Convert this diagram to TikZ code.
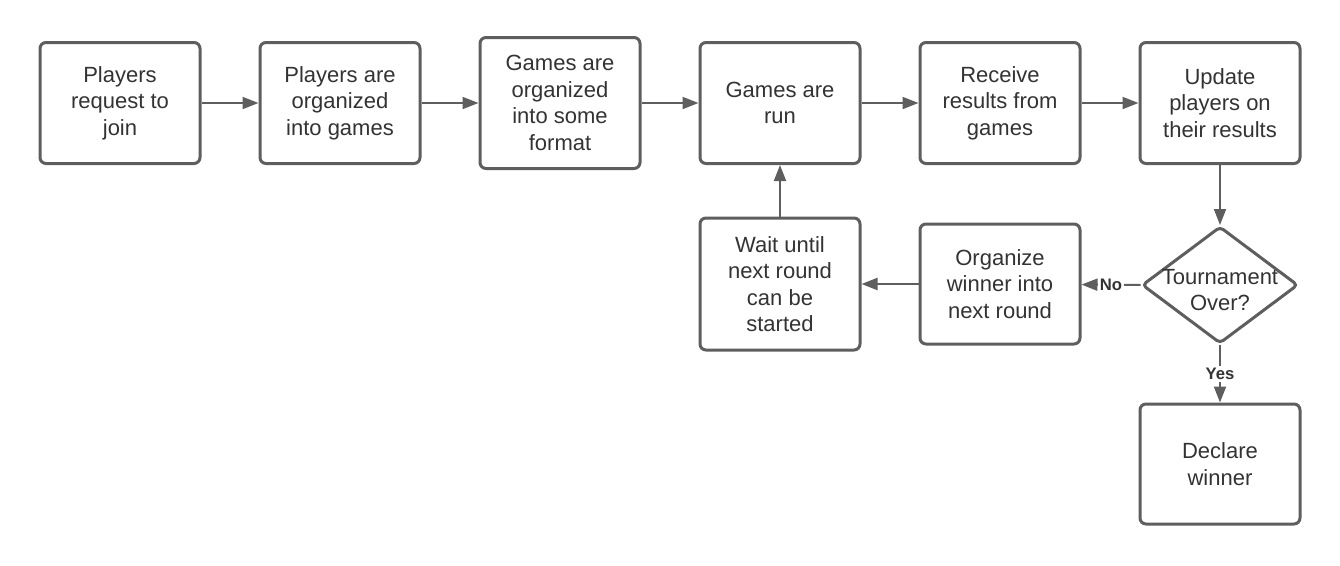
\documentclass[tikz,border=0pt]{standalone}
\usepackage{fontspec}
\setmainfont{Liberation Sans}
\usepackage{tikz}
\usetikzlibrary{arrows.meta, shapes.geometric}
\definecolor{edge}{RGB}{94, 94, 94}
\definecolor{ink}{RGB}{51, 51, 51}

\begin{document}
\begin{tikzpicture}[x=0.75pt, y=-0.75pt,
  stage/.style={draw=edge, line width=2.25pt, rounded corners=4.5pt, fill=white,
    minimum width=120pt, minimum height=90.75pt, align=center, text=ink,
    font=\fontsize{16.5}{19.9}\selectfont},
  decision/.style={draw=edge, line width=2.25pt, diamond, rounded corners=3pt,
    minimum width=117pt, minimum height=87.75pt, inner sep=0pt},
  flow/.style={draw=edge, line width=1.5pt, -{Triangle[length=12pt, width=9pt]}},
  answer/.style={fill=white, text=ink, inner sep=1.5pt,
    font=\fontsize{12.5}{14}\selectfont\bfseries}]
  \useasboundingbox (0, 0) rectangle (1340, 565);

  % top row
  \node[stage] (join) at (120, 103) {Players\\request to\\join};
  \node[stage] (sort) at (340, 103) {Players are\\organized\\into games};
  \node[stage, minimum height=98.25pt] (format) at (560, 103)
    {Games are\\organized\\into some\\format};
  \node[stage] (run) at (780, 103) {Games are\\run};
  \node[stage] (receive) at (1000, 103) {Receive\\results from\\games};
  \node[stage] (update) at (1220, 103) {Update\\players on\\their results};

  % loop back
  \node[decision] (over) at (1220, 285) {};
  \node[text=ink, align=center, font=\fontsize{16.5}{19.9}\selectfont]
    (overtext) at (1220, 290) {Tournament\\Over?};
  \node[stage, minimum height=90pt] (organize) at (1000, 284)
    {Organize\\winner into\\next round};
  \node[stage, minimum height=99pt] (wait) at (780, 284)
    {Wait until\\next round\\can be\\started};
  \node[stage, minimum height=90pt] (declare) at (1220, 464) {Declare\\winner};

  \draw[flow] (join) -- (sort);
  \draw[flow] (sort) -- (format);
  \draw[flow] (format) -- (run);
  \draw[flow] (run) -- (receive);
  \draw[flow] (receive) -- (update);
  \draw[flow] (update) -- (over);
  \draw[flow] (over.west) -- node[answer] {No} (organize);
  \draw[flow] (over.south) -- node[answer] {Yes} (declare);
  \draw[flow] (organize) -- (wait);
  \draw[flow] (wait) -- (run);
\end{tikzpicture}
\end{document}
